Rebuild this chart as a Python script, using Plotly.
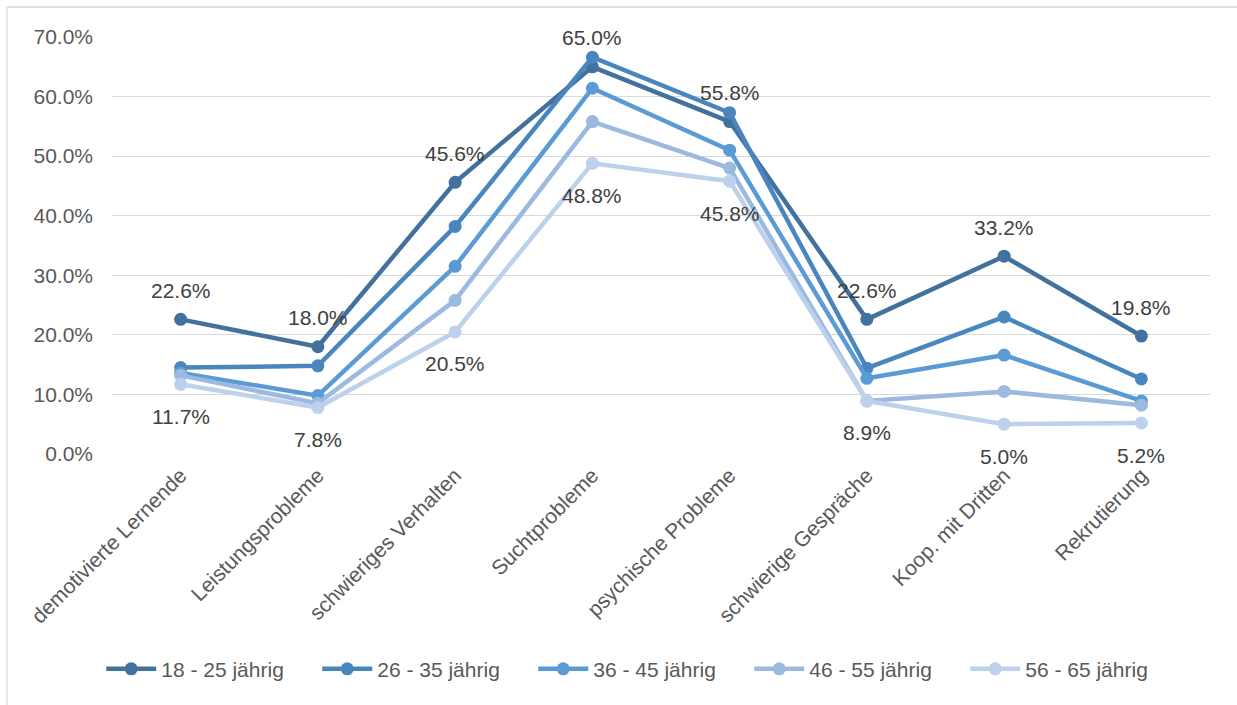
import plotly.graph_objects as go

categories = ["demotivierte Lernende", "Leistungsprobleme", "schwieriges Verhalten",
              "Suchtprobleme", "psychische Probleme", "schwierige Gespräche",
              "Koop. mit Dritten", "Rekrutierung"]

s_18_25 = [22.6, 18.0, 45.6, 65.0, 55.8, 22.6, 33.2, 19.8]
s_26_35 = [14.5, 14.8, 38.2, 66.6, 57.3, 14.4, 23.0, 12.6]
s_36_45 = [13.6, 9.8, 31.5, 61.4, 51.0, 12.7, 16.6, 8.9]
s_46_55 = [13.2, 8.5, 25.8, 55.8, 48.0, 8.9, 10.5, 8.2]
s_56_65 = [11.7, 7.8, 20.5, 48.8, 45.8, 8.9, 5.0, 5.2]

series_names = ["18 - 25 jährig", "26 - 35 jährig", "36 - 45 jährig",
                "46 - 55 jährig", "56 - 65 jährig"]
series_values = [s_18_25, s_26_35, s_36_45, s_46_55, s_56_65]
colors = ["#41719C", "#4A86BE", "#5B9BD5", "#9CB9E0", "#BDD1EC"]

yticks = [0, 10, 20, 30, 40, 50, 60, 70]

FONT = "Liberation Sans, Arial, sans-serif"
FS = 21
fig = go.Figure()

for name, vals, col in zip(series_names, series_values, colors):
    fig.add_trace(go.Scatter(
        x=categories, y=vals, name=name, mode="lines+markers",
        line=dict(color=col, width=4.5),
        marker=dict(color=col, size=13),
        cliponaxis=False,
    ))

annotations = []
for vals, shift in ((s_18_25, 29), (s_56_65, -32)):
    for c, v in zip(categories, vals):
        annotations.append(dict(
            x=c, y=v, text=f"{v:.1f}%", showarrow=False, yshift=shift,
            font=dict(family=FONT, size=FS, color="#404040"),
            xanchor="center", yanchor="middle"))

fig.update_layout(
    width=1237, height=705,
    paper_bgcolor="white", plot_bgcolor="white",
    margin=dict(l=112, r=27, t=37, b=251),
    font=dict(family=FONT, size=FS, color="#595959"),
    showlegend=True,
    legend=dict(orientation="h", x=0.482, xanchor="center", y=-0.516, yanchor="middle",
                font=dict(family=FONT, size=FS, color="#595959"),
                traceorder="normal", itemwidth=50, entrywidth=151,
                entrywidthmode="pixels"),
    xaxis=dict(type="category", range=[-0.5, 7.5], tickangle=-45,
               showgrid=False, showline=False, ticks="", ticklabelstandoff=4,
               tickfont=dict(family=FONT, size=FS, color="#595959")),
    yaxis=dict(range=[0, 70], tickvals=yticks,
               ticktext=[f"{v:.1f}%" for v in yticks],
               showgrid=True, gridcolor="#D9D9D9", gridwidth=1.3,
               zeroline=False, showline=False, ticks="", ticklabelstandoff=18,
               tickfont=dict(family=FONT, size=FS, color="#595959")),
    annotations=annotations,
    shapes=[dict(type="rect", xref="paper", yref="paper",
                 x0=-0.0956, x1=1.04, y0=-0.65, y1=1.072,
                 line=dict(color="#D9D9D9", width=1.3), fillcolor="rgba(0,0,0,0)",
                 layer="below")],
)

fig.write_html("out.html", config={"displayModeBar": False},
               post_script="document.body.style.margin='0';")
